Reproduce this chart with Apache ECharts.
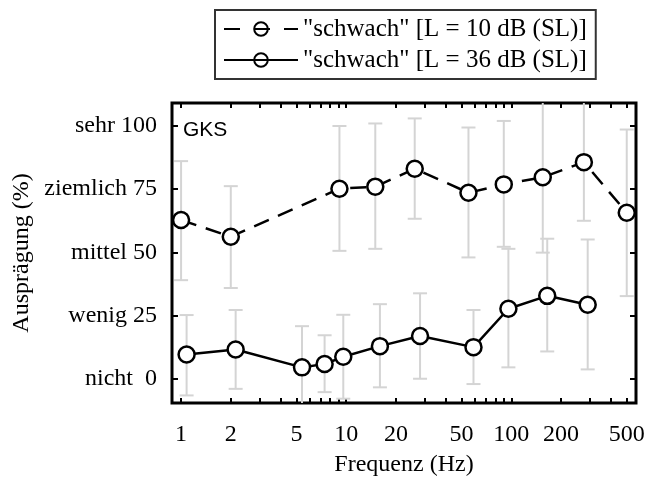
<!DOCTYPE html>
<html>
<head>
<meta charset="utf-8">
<script src="https://cdn.jsdelivr.net/npm/echarts@6/dist/echarts.min.js"></script>
<style>
  html, body { margin: 0; padding: 0; background: #fff; }
  #chart { width: 648px; height: 477px; }
</style>
</head>
<body>
<div id="chart"></div>
<script>
// Frequenzen (Hz) und Mittelwerte / Fehlerbalken je Bedingung
const freq10 = [1, 2, 9.1, 15, 26, 55, 90, 155, 275, 500];
const mean10 = [62.8, 56.2, 75.2, 76, 83.1, 73.6, 76.9, 79.7, 85.7, 65.7];
const lo10   = [39.0, 35.9, 50.6, 51.4, 63.3, 48, 52.2, 49.9, 62.5, 32.7];
const hi10   = [86.1, 76.2, 100, 101, 103, 99.4, 102, 112, 109.5, 98.6];

const freq36 = [1.08, 2.14, 5.4, 7.4, 9.6, 16, 28, 59, 96, 165, 290];
const mean36 = [9.6, 11.6, 4.5, 5.8, 8.7, 12.9, 16.9, 12.5, 27.7, 32.8, 29.3];
const lo36   = [-6.6, -4.0, -12, -5.3, -7.9, -3.4, 0, -2.1, 4.5, 10.8, 3.7];
const hi36   = [25.2, 27.2, 20.8, 17.2, 25.3, 29.5, 33.8, 27.2, 51.4, 55.4, 55.1];

const xLabels = [1, 2, 5, 10, 20, 50, 100, 200, 500];
const xMinor = [3, 4, 6, 7, 8, 9, 30, 40, 60, 70, 80, 90, 300, 400];
const yTicks = [0, 25, 50, 75, 100];
const yNames = { 0: 'nicht  0', 25: 'wenig 25', 50: 'mittel 50', 75: 'ziemlich 75', 100: 'sehr 100' };

const name10 = '"schwach" [L = 10 dB (SL)]';
const name36 = '"schwach" [L = 36 dB (SL)]';

const lg = v => Math.log10(v);
const serif = 'Liberation Serif';

const chart = echarts.init(document.getElementById('chart'));

function errSeries(f, lo, hi) {
  return {
    type: 'custom',
    clip: true,
    z: 1,
    silent: true,
    data: f.map((v, i) => [lg(v), lo[i], hi[i]]),
    renderItem: (params, api) => {
      const top = api.coord([api.value(0), api.value(2)]);
      const bot = api.coord([api.value(0), api.value(1)]);
      const w = 7;
      const style = { stroke: '#d4d4d4', lineWidth: 2 };
      return {
        type: 'group',
        children: [
          { type: 'line', shape: { x1: top[0], y1: top[1], x2: bot[0], y2: bot[1] }, style },
          { type: 'line', shape: { x1: top[0] - w, y1: top[1], x2: top[0] + w, y2: top[1] }, style },
          { type: 'line', shape: { x1: bot[0] - w, y1: bot[1], x2: bot[0] + w, y2: bot[1] }, style }
        ]
      };
    }
  };
}

const allTicks = xLabels.concat(xMinor).map(lg);
const tickStyle = { color: '#000', width: 2 };

const option = {
  animation: false,
  backgroundColor: '#fff',
  grid: {
    left: 172, right: 12, top: 103, bottom: 74,
    outerBoundsMode: 'none', containLabel: false,
    show: true, borderColor: '#000', borderWidth: 3
  },
  legend: {
    orient: 'vertical',
    left: 215,
    top: 10,
    data: [
      { name: name10, lineStyle: { type: [16, 14] } },
      { name: name36 }
    ],
    itemWidth: 74,
    itemHeight: 17,
    itemGap: 5,
    padding: [6, 9, 6, 8],
    borderColor: '#333',
    borderWidth: 2,
    borderRadius: 0,
    itemStyle: { color: 'transparent' },
    textStyle: { fontFamily: serif, fontSize: 25, color: '#000', lineHeight: 26 }
  },
  xAxis: [{
    type: 'value',
    min: -0.055,
    max: 2.755,
    position: 'bottom',
    axisLine: { show: false, onZero: false },
    splitLine: { show: false },
    axisTick: { show: true, inside: true, length: 5, customValues: allTicks, lineStyle: tickStyle },
    axisLabel: {
      customValues: xLabels.map(lg),
      formatter: v => String(Math.round(Math.pow(10, v))),
      fontFamily: serif, fontSize: 24, color: '#000', margin: 20
    },
    name: 'Frequenz (Hz)',
    nameLocation: 'middle',
    nameGap: 50,
    nameTextStyle: { fontFamily: serif, fontSize: 24, color: '#000' }
  }, {
    type: 'value',
    min: -0.055,
    max: 2.755,
    position: 'top',
    axisLine: { show: false, onZero: false },
    splitLine: { show: false },
    axisTick: { show: true, inside: true, length: 5, customValues: allTicks, lineStyle: tickStyle },
    axisLabel: { show: false }
  }],
  yAxis: [{
    type: 'value',
    min: -9.6,
    max: 109.1,
    position: 'left',
    axisLine: { show: false, onZero: false },
    splitLine: { show: false },
    axisTick: { show: true, inside: true, length: 6, customValues: yTicks, lineStyle: tickStyle },
    axisLabel: {
      customValues: yTicks,
      formatter: v => yNames[Math.round(v)],
      fontFamily: serif, fontSize: 24, color: '#000', margin: 15
    },
    name: 'Ausprägung (%)',
    nameLocation: 'middle',
    nameRotate: 90,
    nameGap: 138,
    nameMoveOverlap: false,
    nameTextStyle: { fontFamily: serif, fontSize: 24, color: '#000' }
  }, {
    type: 'value',
    min: -9.6,
    max: 109.1,
    position: 'right',
    axisLine: { show: false, onZero: false },
    splitLine: { show: false },
    axisTick: { show: true, inside: true, length: 6, customValues: yTicks, lineStyle: tickStyle },
    axisLabel: { show: false }
  }],
  graphic: [{
    type: 'text',
    left: 183,
    top: 120,
    style: { text: 'GKS', fontFamily: 'Liberation Sans', fontSize: 21, fill: '#000' }
  }],
  series: [
    errSeries(freq10, lo10, hi10),
    errSeries(freq36, lo36, hi36),
    {
      name: name10,
      type: 'line',
      z: 3,
      data: freq10.map((v, i) => [lg(v), mean10[i]]),
      symbol: 'circle',
      symbolSize: 16,
      itemStyle: { color: '#fff', borderColor: '#000', borderWidth: 2.5 },
      lineStyle: { color: '#000', width: 2.5, type: [16, 10] }
    },
    {
      name: name36,
      type: 'line',
      z: 3,
      data: freq36.map((v, i) => [lg(v), mean36[i]]),
      symbol: 'circle',
      symbolSize: 16,
      itemStyle: { color: '#fff', borderColor: '#000', borderWidth: 2.5 },
      lineStyle: { color: '#000', width: 2.5 }
    }
  ]
};

chart.setOption(option);
</script>
</body>
</html>
